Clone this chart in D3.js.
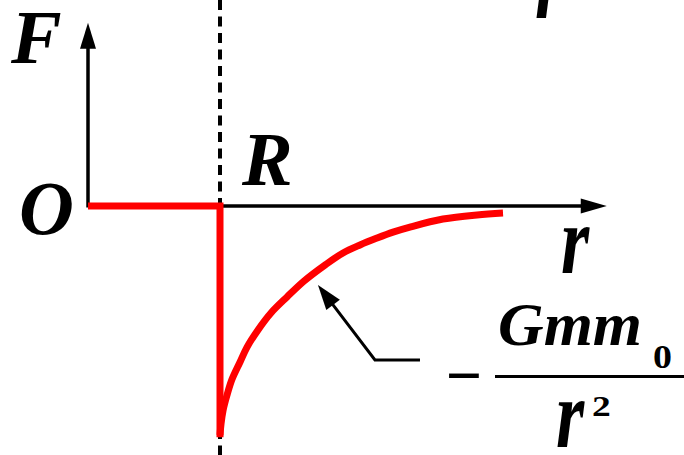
<!DOCTYPE html>
<html>
<head>
<meta charset="utf-8">
<script src="https://cdn.jsdelivr.net/npm/d3@7/dist/d3.min.js"></script>
<style>
  html, body { margin: 0; padding: 0; background: #fff; }
  svg { display: block; }
  text { font-family: "Liberation Serif", "Times New Roman", serif; font-weight: bold; font-style: italic; fill: #000; }
  text.up { font-style: normal; }
</style>
</head>
<body>
<div id="chart"></div>
<script>
// r in units of R, F in units of |F(R)|
const insideR = [0, 1];            // F = 0 inside the shell
const insideF = [0, 0];
const curveR = [1.000, 1.008, 1.023, 1.053, 1.091, 1.152, 1.205, 1.288, 1.386, 1.508,
                1.636, 1.795, 1.932, 2.061, 2.189, 2.311, 2.439, 2.689, 2.947, 3.144];
const curveF = [-1.000, -0.950, -0.893, -0.826, -0.757, -0.681, -0.616, -0.541, -0.467, -0.397,
                -0.328, -0.258, -0.205, -0.170, -0.140, -0.114, -0.092, -0.057, -0.039, -0.031];
const dropF = [0, -1.01];          // the jump at r = R
const axisMaxR = 3.93;
const axisMaxF = 0.80;
// annotation arrow: tip on the curve, elbow, end of leader
const leaderR = [1.742, 2.174, 2.515];
const leaderF = [-0.345, -0.672, -0.672];

const width = 684, height = 455;

const svg = d3.select("#chart").append("svg")
    .attr("width", width)
    .attr("height", height);

const x = d3.scaleLinear().domain([0, 1]).range([88, 220]);
const y = d3.scaleLinear().domain([0, -1]).range([206, 435]);

// dashed line at r = R
svg.append("line")
    .attr("x1", x(1)).attr("x2", x(1))
    .attr("y1", 0).attr("y2", height)
    .attr("stroke", "#000")
    .attr("stroke-width", 4)
    .attr("stroke-dasharray", "10,6.5");

// axes with arrow heads
svg.append("line")
    .attr("x1", x(0)).attr("x2", x(axisMaxR) - 24)
    .attr("y1", y(0)).attr("y2", y(0))
    .attr("stroke", "#000").attr("stroke-width", 3.5);
svg.append("path")
    .attr("d", `M${x(axisMaxR)},${y(0)} L${x(axisMaxR) - 26},${y(0) - 7.5} L${x(axisMaxR) - 26},${y(0) + 7.5} Z`)
    .attr("fill", "#000");

svg.append("line")
    .attr("x1", x(0)).attr("x2", x(0))
    .attr("y1", y(0) + 1.5).attr("y2", y(axisMaxF) + 24)
    .attr("stroke", "#000").attr("stroke-width", 3.5);
svg.append("path")
    .attr("d", `M${x(0)},${y(axisMaxF)} L${x(0) - 8},${y(axisMaxF) + 26} L${x(0) + 8},${y(axisMaxF) + 26} Z`)
    .attr("fill", "#000");

// red graph: zero inside, jump, then -Gmm0/r^2
const step = insideR.map((r, i) => [r, insideF[i]]).concat([[1, dropF[1]]]);
svg.append("path")
    .datum(step)
    .attr("d", d3.line().x(d => x(d[0])).y(d => y(d[1])))
    .attr("fill", "none")
    .attr("stroke", "#ff0000")
    .attr("stroke-width", 7)
    .attr("stroke-linejoin", "miter");

svg.append("path")
    .datum(curveR.map((r, i) => [r, curveF[i]]))
    .attr("d", d3.line().x(d => x(d[0])).y(d => y(d[1])).curve(d3.curveCatmullRom.alpha(0.5)))
    .attr("fill", "none")
    .attr("stroke", "#ff0000")
    .attr("stroke-width", 7);

// leader arrow
const pts = leaderR.map((r, i) => [x(r), y(leaderF[i])]);
const dx = pts[1][0] - pts[0][0], dy = pts[1][1] - pts[0][1];
const len = Math.hypot(dx, dy), ux = dx / len, uy = dy / len;
const headLen = 25, headHalf = 8.5;
const bx = pts[0][0] + ux * headLen, by = pts[0][1] + uy * headLen;
svg.append("path")
    .attr("d", d3.line()([[bx - ux * 2, by - uy * 2], pts[1], pts[2]]))
    .attr("fill", "none")
    .attr("stroke", "#000")
    .attr("stroke-width", 3);
svg.append("path")
    .attr("d", `M${pts[0][0]},${pts[0][1]} L${bx - uy * headHalf},${by + ux * headHalf} L${bx + uy * headHalf},${by - ux * headHalf} Z`)
    .attr("fill", "#000");

// labels
const label = (txt, px, py, size, sx = 1, cls = null) => svg.append("text")
    .attr("class", cls)
    .attr("transform", `translate(${px},${py}) scale(${sx},1)`)
    .attr("font-size", size)
    .text(txt);

label("F", 11, 63, 76);
label("O", 19, 234, 76);
label("R", 242, 185, 76);
label("r", 561, 273, 98, 0.74);
label("r", 535, 18, 98, 0.74);

// formula  - G m m0 / r^2
label("\u2212", 444, 397, 64);
label("Gmm", 498, 345, 62, 1.02);
label("0", 653, 368, 33, 1.15, "up");
svg.append("line")
    .attr("x1", 495).attr("x2", 684)
    .attr("y1", 376.5).attr("y2", 376.5)
    .attr("stroke", "#000").attr("stroke-width", 3);
label("r", 556, 447, 98, 0.74);
label("2", 592, 416, 30, 1.25, "up");
</script>
</body>
</html>
